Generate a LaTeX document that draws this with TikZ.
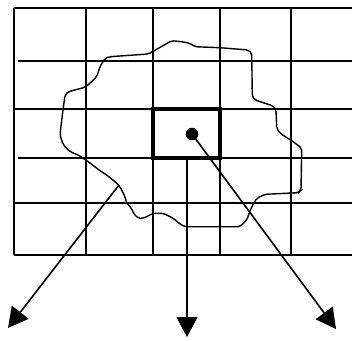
\documentclass[tikz,border=0pt]{standalone}
\usetikzlibrary{arrows.meta}
\begin{document}
\begin{tikzpicture}[x=1pt,y=-1pt,
  gridline/.style={line width=1.8pt},
  cellbox/.style={line width=4.5pt},
  blob/.style={line width=1.4pt, rounded corners=2pt},
  ray/.style={line width=1.6pt, -{Triangle[length=20pt,width=21pt]}},
  dotnode/.style={circle, fill=black, inner sep=0pt, minimum size=12.5pt}]
\useasboundingbox (0,0) rectangle (352,340);
% grid
\foreach \x in {14,86,153,220,291} \draw[gridline] (\x,8) -- (\x,255);
\draw[gridline] (14,8) -- (352,8);
\draw[gridline] (18,61) -- (352,61);
\draw[gridline] (14,109) -- (352,109);
\draw[gridline] (18,158) -- (352,158);
\draw[gridline] (14,203) -- (352,203);
\draw[gridline] (14,255) -- (352,255);
% blob
\draw[blob] (148.3,54) -- (171.7,40.7) -- (181.7,41.7) -- (190,43.3) -- (195,46.7) -- (220,47.7) -- (248.3,50) -- (251.7,53.3) -- (252.3,96.7) -- (255,100) -- (273.3,106) -- (276,110) -- (276.7,128.3) -- (280,133.3) -- (293.3,141.7) -- (301.7,148.3) -- (301,190) -- (298.3,192.7) -- (265,194.3) -- (256.7,198.3) -- (251.7,206.7) -- (246.7,220) -- (240,226.7) -- (185,226.7) -- (180,224) -- (173.3,218.3) -- (163.3,213.3) -- (153.3,213.3) -- (143.3,218.3) -- (138.3,218.3) -- (133.3,213.3) -- (131.7,208.3) -- (126.7,203.3) -- (125,196.7) -- (120,186.7) -- (115,181.7) -- (106.7,175) -- (100,170.7) -- (88.3,161.7) -- (78.3,155) -- (70,151.7) -- (63.3,145) -- (60,135) -- (61.7,120) -- (65,95) -- (68.3,91.7) -- (85,87.3) -- (90,83.3) -- (96.7,76.7) -- (100,66.7) -- (105,58.3) -- (110,56.7) -- cycle;
% highlighted cell
\draw[cellbox] (153,109) rectangle (220,158);
\node[dotnode] (dot) at (192,134) {};
% ray endpoints
\coordinate (s1) at (119,185);
\coordinate (s2) at (187,158);
\coordinate (t1) at (8,328);
\coordinate (t2) at (187,337);
\coordinate (t3) at (336,329);
\draw[ray] (s1) -- (t1);
\draw[ray] (s2) -- (t2);
\draw[ray] (dot.center) -- (t3);
\end{tikzpicture}
\end{document}
